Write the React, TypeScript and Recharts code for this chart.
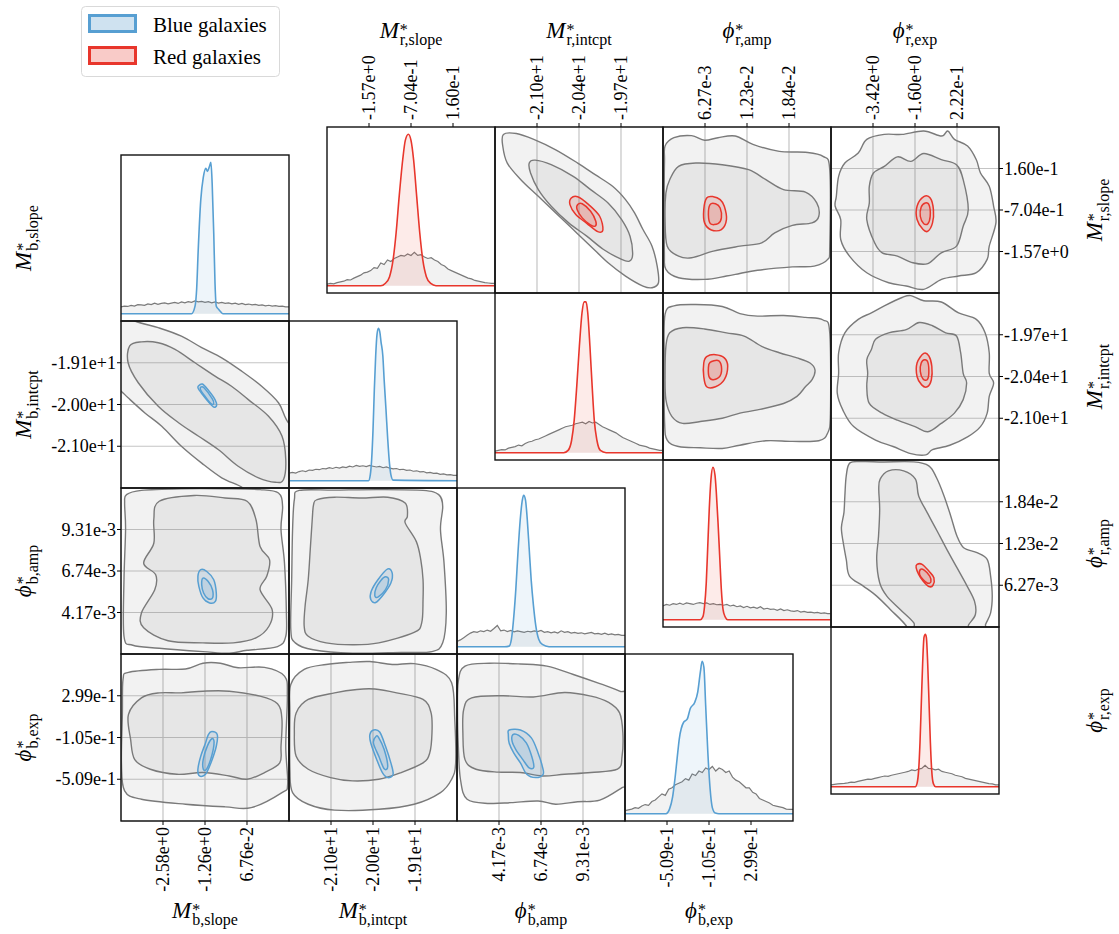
import React from 'react';
import { ScatterChart, Scatter, ComposedChart, Area, XAxis, YAxis, CartesianGrid } from 'recharts';

const FONT = '"Liberation Serif", "Times New Roman", "DejaVu Serif", serif';
const BLUE = '#579fd2';
const RED = '#e8362c';
const GREY = '#7a7a7a';

// ---------------- axis ranges, ticks and tick labels ----------------
const bSlopeDomain = [-3.904, 1.392];
const bSlopeTicks = [-2.58, -1.256, 0.0676];
const bSlopeLabels = ['-2.58e+0', '-1.26e+0', '6.76e-2'];
const bIntDomain = [-21.91, -18.15];
const bIntTicks = [-20.97, -20.03, -19.09];
const bIntLabels = ['-2.10e+1', '-2.00e+1', '-1.91e+1'];
const bAmpDomain = [1.6e-3, 11.88e-3];
const bAmpTicks = [4.17e-3, 6.74e-3, 9.31e-3];
const bAmpLabels = ['4.17e-3', '6.74e-3', '9.31e-3'];
const bExpDomain = [-0.913, 0.703];
const bExpTicks = [-0.509, -0.105, 0.299];
const bExpLabels = ['-5.09e-1', '-1.05e-1', '2.99e-1'];

const rSlopeDomain = [-2.432, 1.024];
const rSlopeTicks = [-1.568, -0.704, 0.16];
const rSlopeLabels = ['-1.57e+0', '-7.04e-1', '1.60e-1'];
const rIntDomain = [-21.67, -19.07];
const rIntTicks = [-21.02, -20.37, -19.72];
const rIntLabels = ['-2.10e+1', '-2.04e+1', '-1.97e+1'];
const rAmpDomain = [0.2e-3, 24.48e-3];
const rAmpTicks = [6.27e-3, 12.34e-3, 18.41e-3];
const rAmpLabels = ['6.27e-3', '1.23e-2', '1.84e-2'];
const rExpDomain = [-5.241, 2.043];
const rExpTicks = [-3.42, -1.599, 0.222];
const rExpLabels = ['-3.42e+0', '-1.60e+0', '2.22e-1'];

const blueTitles = [
  { sym: 'M', sub: 'b,slope' },
  { sym: 'M', sub: 'b,intcpt' },
  { sym: '\u03d5', sub: 'b,amp' },
  { sym: '\u03d5', sub: 'b,exp' },
];
const redTitles = [
  { sym: 'M', sub: 'r,slope' },
  { sym: 'M', sub: 'r,intcpt' },
  { sym: '\u03d5', sub: 'r,amp' },
  { sym: '\u03d5', sub: 'r,exp' },
];
const legendNames = ['Blue galaxies', 'Red galaxies'];

// ---------------- 1D marginals (prior histogram + posterior) ----------------
const bSlopeHist = [0.045, 0.05, 0.048, 0.055, 0.05, 0.06, 0.058, 0.055, 0.065, 0.06, 0.07, 0.062, 0.068, 0.072, 0.065, 0.07, 0.075, 0.068, 0.078, 0.072, 0.08, 0.075, 0.085, 0.078, 0.082, 0.075, 0.08, 0.072, 0.078, 0.07, 0.075, 0.068, 0.072, 0.065, 0.07, 0.062, 0.068, 0.06, 0.064, 0.058, 0.062, 0.055, 0.058, 0.052, 0.056, 0.05, 0.053, 0.048, 0.05, 0.045];
const bSlopePeakX = [-3.904, -1.68, -1.57, -1.52, -1.47, -1.39, -1.31, -1.23, -1.18, -1.12, -1.07, -1.03, -0.98, -0.94, -0.9, -0.83, -0.77, -0.69, 1.392];
const bSlopePeakY = [0, 0, 0.05, 0.16, 0.42, 0.75, 0.9, 0.96, 0.94, 0.97, 1.0, 0.86, 0.53, 0.2, 0.05, 0.03, 0.015, 0, 0];

const bIntHist = [0.05, 0.055, 0.05, 0.06, 0.065, 0.06, 0.07, 0.068, 0.075, 0.072, 0.08, 0.078, 0.085, 0.08, 0.088, 0.083, 0.09, 0.086, 0.095, 0.09, 0.1, 0.094, 0.098, 0.092, 0.1, 0.095, 0.09, 0.094, 0.085, 0.09, 0.082, 0.078, 0.08, 0.072, 0.075, 0.068, 0.07, 0.062, 0.065, 0.058, 0.06, 0.052, 0.055, 0.048, 0.05, 0.042, 0.045, 0.038, 0.04, 0.035];
const bIntPeakX = [-21.91, -20.13, -20.09, -20.06, -20.03, -20.0, -19.97, -19.94, -19.91, -19.88, -19.85, -19.81, -19.78, -19.74, -19.7, -19.66, -19.63, -19.58, -18.15];
const bIntPeakY = [0, 0, 0.04, 0.14, 0.33, 0.6, 0.82, 0.96, 1.0, 0.98, 0.91, 0.82, 0.66, 0.47, 0.27, 0.11, 0.04, 0.004, 0];

const bAmpHist = [0.035, 0.045, 0.06, 0.075, 0.09, 0.1, 0.095, 0.105, 0.1, 0.11, 0.102, 0.12, 0.14, 0.105, 0.11, 0.1, 0.108, 0.098, 0.105, 0.1, 0.095, 0.102, 0.098, 0.105, 0.1, 0.108, 0.095, 0.1, 0.092, 0.098, 0.09, 0.105, 0.095, 0.1, 0.09, 0.095, 0.088, 0.092, 0.085, 0.09, 0.095, 0.085, 0.088, 0.082, 0.09, 0.08, 0.085, 0.078, 0.082, 0.075];
const bAmpPeakX = [1.6e-3, 4.52e-3, 4.79e-3, 4.93e-3, 5.06e-3, 5.2e-3, 5.33e-3, 5.47e-3, 5.6e-3, 5.68e-3, 5.79e-3, 5.9e-3, 6.01e-3, 6.14e-3, 6.28e-3, 6.42e-3, 6.6e-3, 6.82e-3, 7.23e-3, 11.88e-3];
const bAmpPeakY = [0, 0, 0.004, 0.05, 0.18, 0.38, 0.62, 0.84, 0.97, 1.0, 0.97, 0.84, 0.66, 0.44, 0.27, 0.14, 0.05, 0.015, 0, 0];

const bExpHist = [0.02, 0.025, 0.03, 0.04, 0.035, 0.05, 0.06, 0.055, 0.08, 0.09, 0.11, 0.13, 0.12, 0.16, 0.17, 0.19, 0.2, 0.21, 0.23, 0.22, 0.26, 0.25, 0.28, 0.27, 0.3, 0.29, 0.31, 0.28, 0.3, 0.29, 0.27, 0.28, 0.24, 0.22, 0.21, 0.19, 0.17, 0.17, 0.14, 0.13, 0.1, 0.09, 0.08, 0.07, 0.055, 0.05, 0.045, 0.04, 0.03, 0.028];
const bExpPeakX = [-0.913, -0.519, -0.485, -0.455, -0.434, -0.412, -0.391, -0.349, -0.315, -0.285, -0.243, -0.213, -0.188, -0.171, -0.154, -0.137, -0.116, -0.094, -0.073, -0.044, -0.01, 0.703];
const bExpPeakY = [0, 0, 0.03, 0.11, 0.22, 0.36, 0.49, 0.6, 0.62, 0.69, 0.73, 0.8, 0.93, 1.0, 0.96, 0.71, 0.4, 0.16, 0.04, 0.004, 0, 0];

const rSlopeHist = [0.01, 0.015, 0.012, 0.02, 0.025, 0.03, 0.04, 0.038, 0.05, 0.06, 0.07, 0.085, 0.09, 0.1, 0.12, 0.115, 0.15, 0.14, 0.17, 0.16, 0.18, 0.19, 0.2, 0.195, 0.21, 0.2, 0.22, 0.2, 0.205, 0.19, 0.18, 0.185, 0.17, 0.16, 0.14, 0.13, 0.11, 0.1, 0.09, 0.08, 0.07, 0.06, 0.05, 0.045, 0.035, 0.03, 0.025, 0.02, 0.018, 0.015];
const rSlopePeakX = [-2.432, -1.326, -1.236, -1.145, -1.073, -1.01, -0.947, -0.875, -0.821, -0.758, -0.704, -0.65, -0.587, -0.524, -0.461, -0.388, -0.298, -0.19, 1.024];
const rSlopePeakY = [0, 0, 0.015, 0.06, 0.17, 0.35, 0.59, 0.83, 0.96, 1.0, 0.96, 0.83, 0.59, 0.35, 0.17, 0.06, 0.015, 0, 0];

const rIntHist = [0.01, 0.015, 0.02, 0.018, 0.03, 0.035, 0.04, 0.05, 0.045, 0.06, 0.07, 0.075, 0.085, 0.09, 0.1, 0.11, 0.12, 0.13, 0.14, 0.15, 0.16, 0.17, 0.175, 0.18, 0.19, 0.195, 0.2, 0.19, 0.205, 0.195, 0.2, 0.185, 0.17, 0.16, 0.15, 0.14, 0.13, 0.115, 0.1, 0.09, 0.08, 0.07, 0.06, 0.05, 0.045, 0.04, 0.03, 0.025, 0.02, 0.015];
const rIntPeakX = [-21.67, -20.607, -20.539, -20.485, -20.445, -20.404, -20.364, -20.323, -20.289, -20.261, -20.235, -20.201, -20.167, -20.133, -20.092, -20.039, -19.95, -19.07];
const rIntPeakY = [0, 0, 0.015, 0.08, 0.21, 0.44, 0.7, 0.92, 0.99, 0.99, 0.92, 0.7, 0.44, 0.21, 0.08, 0.015, 0, 0];

const rAmpHist = [0.09, 0.1, 0.095, 0.105, 0.1, 0.108, 0.1, 0.11, 0.105, 0.1, 0.108, 0.112, 0.105, 0.11, 0.1, 0.105, 0.098, 0.1, 0.095, 0.1, 0.09, 0.095, 0.085, 0.09, 0.08, 0.088, 0.078, 0.082, 0.075, 0.085, 0.07, 0.075, 0.068, 0.07, 0.062, 0.07, 0.06, 0.065, 0.058, 0.055, 0.06, 0.05, 0.055, 0.048, 0.05, 0.045, 0.048, 0.042, 0.045, 0.04];
const rAmpPeakX = [0.2e-3, 5.58e-3, 5.97e-3, 6.21e-3, 6.45e-3, 6.65e-3, 6.89e-3, 7.13e-3, 7.42e-3, 7.71e-3, 7.9e-3, 8.15e-3, 8.39e-3, 8.63e-3, 8.87e-3, 9.17e-3, 9.55e-3, 24.48e-3];
const rAmpPeakY = [0, 0, 0.02, 0.09, 0.24, 0.46, 0.73, 0.92, 1.0, 0.95, 0.84, 0.64, 0.42, 0.2, 0.07, 0.02, 0, 0];

const rExpHist = [0.012, 0.015, 0.018, 0.02, 0.022, 0.025, 0.03, 0.028, 0.035, 0.04, 0.045, 0.05, 0.048, 0.055, 0.06, 0.065, 0.07, 0.068, 0.075, 0.08, 0.085, 0.09, 0.095, 0.1, 0.11, 0.105, 0.115, 0.12, 0.14, 0.12, 0.118, 0.11, 0.115, 0.1, 0.095, 0.09, 0.085, 0.075, 0.07, 0.065, 0.055, 0.05, 0.045, 0.04, 0.035, 0.03, 0.025, 0.02, 0.018, 0.012];
const rExpPeakX = [-5.241, -1.585, -1.513, -1.44, -1.382, -1.325, -1.267, -1.209, -1.15, -1.107, -1.049, -0.99, -0.932, -0.876, -0.803, -0.701, 2.043];
const rExpPeakY = [0, 0, 0.02, 0.11, 0.29, 0.55, 0.81, 0.98, 1.0, 0.98, 0.81, 0.55, 0.29, 0.11, 0.02, 0, 0];

// ---------------- 2D credible contours (grey prior 95/68, posterior 95/68) ----------------
const b10G95 = [[-4.3, -17.87], [-3.47, -18.15], [-2.73, -18.3], [-2.0, -18.49], [-1.36, -18.75], [-0.73, -18.98], [-0.1, -19.28], [0.53, -19.62], [1.06, -19.99], [1.31, -20.37], [1.79, -20.97], [1.79, -22.19], [0.2, -22.1], [-0.1, -21.89], [-0.73, -21.68], [-1.36, -21.35], [-2.0, -20.97], [-2.62, -20.52], [-3.15, -20.22], [-3.68, -19.88], [-3.9, -19.73], [-4.3, -19.51]];
const b10G68 = [[-3.63, -18.71], [-3.26, -18.62], [-2.73, -18.64], [-2.2, -18.79], [-1.57, -19.09], [-0.94, -19.39], [-0.42, -19.62], [0.11, -19.92], [0.74, -20.29], [1.17, -20.74], [1.29, -21.27], [1.22, -21.72], [0.96, -21.78], [0.43, -21.68], [-0.21, -21.42], [-0.83, -21.05], [-1.47, -20.74], [-2.09, -20.44], [-2.73, -20.07], [-3.36, -19.54], [-3.68, -19.09]];
const b10C95 = [[-1.47, -19.62], [-1.34, -19.57], [-1.15, -19.71], [-0.94, -19.92], [-0.89, -20.05], [-0.98, -20.09], [-1.15, -19.97], [-1.34, -19.8], [-1.47, -19.67]];
const b10C68 = [[-1.39, -19.64], [-1.28, -19.66], [-1.03, -19.9], [-0.98, -20.01], [-1.07, -20.01], [-1.28, -19.82], [-1.39, -19.71]];
const b20G95 = [[-3.73, 11.47e-3], [-3.26, 11.73e-3], [-2.01, 11.83e-3], [-0.62, 11.83e-3], [0.48, 11.78e-3], [1.06, 11.57e-3], [1.19, 10.75e-3], [1.14, 9.31e-3], [1.25, 7.23e-3], [1.31, 4.14e-3], [1.29, 2.7e-3], [1.03, 2.06e-3], [0.07, 1.83e-3], [-0.49, 1.65e-3], [-1.32, 1.75e-3], [-2.7, 1.96e-3], [-3.53, 2.14e-3], [-3.81, 2.7e-3], [-3.81, 6.2e-3], [-3.76, 9.31e-3], [-3.79, 10.95e-3]];
const b20G68 = [[-2.7, 11.06e-3], [-1.6, 11.42e-3], [-0.62, 11.26e-3], [0.07, 11.06e-3], [0.35, 9.93e-3], [0.48, 8.26e-3], [0.78, 7.43e-3], [0.69, 6.41e-3], [0.48, 5.58e-3], [0.86, 4.35e-3], [0.76, 3.32e-3], [0.35, 2.6e-3], [-0.36, 2.29e-3], [-1.32, 2.29e-3], [-2.42, 2.42e-3], [-3.19, 3.22e-3], [-3.26, 4.14e-3], [-2.84, 5.58e-3], [-2.81, 6.51e-3], [-3.19, 7.23e-3], [-2.87, 8.46e-3], [-2.87, 9.93e-3]];
const b20C95 = [[-1.39, 6.82e-3], [-1.2, 6.71e-3], [-0.98, 6.2e-3], [-0.9, 5.38e-3], [-0.93, 4.86e-3], [-1.11, 4.76e-3], [-1.32, 5.07e-3], [-1.45, 5.79e-3], [-1.48, 6.41e-3]];
const b20C68 = [[-1.32, 6.3e-3], [-1.16, 6.1e-3], [-1.02, 5.58e-3], [-1.02, 5.07e-3], [-1.16, 5.02e-3], [-1.3, 5.38e-3], [-1.36, 5.89e-3]];
const b21G95 = [[-21.68, 11.73e-3], [-20.89, 11.75e-3], [-19.9, 11.78e-3], [-18.91, 11.73e-3], [-18.56, 11.47e-3], [-18.47, 10.75e-3], [-18.52, 9.31e-3], [-18.44, 7.23e-3], [-18.39, 4.14e-3], [-18.47, 2.29e-3], [-18.71, 1.75e-3], [-19.4, 1.7e-3], [-20.49, 1.65e-3], [-21.37, 1.86e-3], [-21.77, 2.29e-3], [-21.87, 3.12e-3], [-21.85, 6.2e-3], [-21.83, 9.31e-3], [-21.79, 11.16e-3]];
const b21G68 = [[-21.28, 11.16e-3], [-20.89, 11.31e-3], [-20.29, 11.26e-3], [-19.7, 11.31e-3], [-19.31, 10.95e-3], [-19.26, 10.13e-3], [-19.31, 9.72e-3], [-19.06, 8.56e-3], [-18.96, 7.43e-3], [-18.91, 6.2e-3], [-18.91, 4.97e-3], [-18.94, 3.53e-3], [-19.11, 2.94e-3], [-19.9, 2.29e-3], [-20.49, 2.17e-3], [-21.08, 2.29e-3], [-21.48, 2.7e-3], [-21.57, 3.32e-3], [-21.55, 4.56e-3], [-21.48, 6.2e-3], [-21.43, 8.26e-3], [-21.39, 9.93e-3], [-21.36, 10.85e-3]];
const b21C95 = [[-19.7, 6.87e-3], [-19.6, 6.61e-3], [-19.63, 6.0e-3], [-19.8, 5.27e-3], [-19.97, 4.79e-3], [-20.08, 4.97e-3], [-20.07, 5.48e-3], [-19.92, 6.2e-3]];
const b21C68 = [[-19.75, 6.38e-3], [-19.68, 6.2e-3], [-19.75, 5.58e-3], [-19.92, 5.12e-3], [-19.99, 5.22e-3], [-19.96, 5.69e-3], [-19.85, 6.17e-3]];
const b30G95 = [[-3.84, 0.457], [-3.67, 0.525], [-2.7, 0.554], [-1.87, 0.558], [-1.32, 0.614], [-0.77, 0.614], [-0.21, 0.57], [0.62, 0.574], [1.25, 0.489], [1.34, 0.295], [1.29, -0.19], [1.35, -0.557], [1.17, -0.638], [0.2, -0.784], [-0.62, -0.776], [-1.87, -0.751], [-3.26, -0.703], [-3.79, -0.622], [-3.89, -0.351], [-3.86, 0.133]];
const b30G68 = [[-3.67, 0.117], [-3.26, 0.279], [-2.7, 0.327], [-2.01, 0.327], [-1.32, 0.343], [-0.49, 0.343], [0.48, 0.295], [1.03, 0.222], [1.17, 0.069], [1.14, -0.19], [1.1, -0.351], [0.62, -0.444], [0.07, -0.509], [-0.49, -0.477], [-1.32, -0.444], [-2.14, -0.461], [-2.98, -0.412], [-3.47, -0.319], [-3.6, -0.125]];
const b30C95 = [[-1.04, -0.048], [-0.87, -0.077], [-0.9, -0.19], [-1.07, -0.351], [-1.24, -0.461], [-1.43, -0.477], [-1.48, -0.412], [-1.39, -0.287], [-1.24, -0.158], [-1.15, -0.077]];
const b30C68 = [[-1.04, -0.117], [-0.97, -0.149], [-1.04, -0.279], [-1.2, -0.408], [-1.31, -0.412], [-1.31, -0.315], [-1.18, -0.186]];
const b31G95 = [[-21.87, 0.408], [-21.57, 0.554], [-21.08, 0.602], [-20.58, 0.622], [-20.1, 0.63], [-19.6, 0.602], [-19.11, 0.61], [-18.62, 0.554], [-18.27, 0.424], [-18.2, 0.069], [-18.18, -0.351], [-18.27, -0.509], [-18.52, -0.638], [-19.11, -0.751], [-19.9, -0.8], [-20.89, -0.808], [-21.48, -0.751], [-21.83, -0.638], [-21.89, -0.412], [-21.89, 0.133]];
const b31G68 = [[-21.75, 0.133], [-21.48, 0.263], [-20.89, 0.327], [-20.39, 0.36], [-19.99, 0.364], [-19.5, 0.327], [-18.91, 0.263], [-18.73, 0.133], [-18.71, -0.061], [-18.76, -0.254], [-18.91, -0.351], [-19.4, -0.444], [-19.9, -0.509], [-20.49, -0.525], [-20.98, -0.493], [-21.48, -0.412], [-21.75, -0.287], [-21.79, -0.061]];
const b31C95 = [[-20.02, -0.032], [-19.88, -0.052], [-19.75, -0.19], [-19.63, -0.351], [-19.58, -0.461], [-19.7, -0.493], [-19.82, -0.444], [-19.95, -0.315], [-20.08, -0.158], [-20.1, -0.077]];
const b31C68 = [[-19.96, -0.093], [-19.9, -0.109], [-19.78, -0.222], [-19.7, -0.384], [-19.78, -0.408], [-19.9, -0.287], [-20.02, -0.158]];
const b32G95 = [[1.68e-3, 0.44], [2.09e-3, 0.586], [3.58e-3, 0.614], [5.48e-3, 0.606], [7.1e-3, 0.586], [8.72e-3, 0.505], [10.34e-3, 0.416], [11.55e-3, 0.343], [12.24e-3, 0.263], [12.37e-3, -0.509], [11.7e-3, -0.59], [10.34e-3, -0.711], [8.98e-3, -0.727], [7.64e-3, -0.751], [6.56e-3, -0.719], [4.92e-3, -0.735], [3.58e-3, -0.743], [2.22e-3, -0.703], [1.81e-3, -0.509], [1.68e-3, -0.19], [1.63e-3, 0.133]];
const b32G68 = [[2.01e-3, 0.166], [2.5e-3, 0.279], [4.38e-3, 0.299], [6.28e-3, 0.287], [8.18e-3, 0.331], [9.8e-3, 0.295], [10.88e-3, 0.234], [11.55e-3, 0.133], [11.75e-3, -0.061], [11.7e-3, -0.287], [11.42e-3, -0.412], [9.8e-3, -0.444], [8.18e-3, -0.461], [6.82e-3, -0.477], [5.48e-3, -0.444], [4.12e-3, -0.44], [2.76e-3, -0.412], [2.09e-3, -0.319], [1.96e-3, -0.061]];
const b32C95 = [[4.79e-3, -0.032], [5.48e-3, -0.032], [6.15e-3, -0.109], [6.56e-3, -0.254], [6.82e-3, -0.384], [6.87e-3, -0.461], [6.41e-3, -0.493], [5.87e-3, -0.461], [5.48e-3, -0.351], [5.07e-3, -0.254], [4.79e-3, -0.158], [4.74e-3, -0.077]];
const b32C68 = [[5.02e-3, -0.077], [5.38e-3, -0.085], [5.84e-3, -0.158], [6.17e-3, -0.287], [6.3e-3, -0.392], [6.02e-3, -0.4], [5.63e-3, -0.319], [5.2e-3, -0.222], [4.97e-3, -0.141]];

const r01G95 = [[-21.54, 0.87], [-21.34, 0.888], [-21.07, 0.767], [-20.73, 0.55], [-20.39, 0.273], [-20.12, 0.031], [-19.85, -0.211], [-19.65, -0.488], [-19.51, -0.765], [-19.38, -1.111], [-19.24, -1.457], [-19.16, -1.872], [-19.14, -2.218], [-19.24, -2.322], [-19.38, -2.287], [-19.65, -2.079], [-19.92, -1.803], [-20.19, -1.457], [-20.46, -1.111], [-20.73, -0.765], [-21.0, -0.419], [-21.27, -0.073], [-21.48, 0.273], [-21.55, 0.628]];
const r01G68 = [[-21.14, 0.273], [-21.05, 0.334], [-20.8, 0.239], [-20.46, -0.003], [-20.19, -0.28], [-19.92, -0.557], [-19.71, -0.903], [-19.58, -1.249], [-19.54, -1.63], [-19.59, -1.768], [-19.71, -1.733], [-19.99, -1.526], [-20.25, -1.249], [-20.53, -0.972], [-20.8, -0.626], [-21.0, -0.28], [-21.12, 0.066]];
const r01C95 = [[-20.49, -0.453], [-20.39, -0.427], [-20.22, -0.592], [-20.05, -0.834], [-20.0, -1.119], [-20.08, -1.154], [-20.25, -0.981], [-20.42, -0.799], [-20.51, -0.592]];
const r01C68 = [[-20.39, -0.592], [-20.32, -0.574], [-20.19, -0.73], [-20.11, -0.938], [-20.12, -1.041], [-20.2, -1.007], [-20.32, -0.868], [-20.4, -0.695]];
const r02G95 = [[0.5e-3, 0.628], [1.78e-3, 0.801], [4.33e-3, 0.844], [6.21e-3, 0.749], [8.15e-3, 0.801], [10.64e-3, 0.836], [13.19e-3, 0.663], [17.01e-3, 0.516], [20.78e-3, 0.498], [23.33e-3, 0.412], [24.3e-3, 0.135], [24.3e-3, -1.457], [24.0e-3, -1.733], [22.05e-3, -1.872], [18.9e-3, -1.889], [13.86e-3, -1.958], [11.31e-3, -2.027], [9.37e-3, -2.079], [6.21e-3, -2.149], [2.45e-3, -2.114], [0.62e-3, -1.941], [0.4e-3, -1.595], [0.38e-3, -0.211], [0.42e-3, 0.343]];
const r02G68 = [[1.17e-3, -0.073], [2.45e-3, 0.204], [4.93e-3, 0.273], [8.76e-3, 0.239], [12.58e-3, 0.135], [15.07e-3, -0.073], [17.62e-3, -0.28], [20.78e-3, -0.332], [22.42e-3, -0.557], [22.72e-3, -0.834], [21.75e-3, -0.972], [18.9e-3, -1.024], [16.35e-3, -1.18], [14.46e-3, -1.387], [11.31e-3, -1.457], [7.48e-3, -1.56], [4.33e-3, -1.699], [2.45e-3, -1.664], [0.81e-3, -1.457], [0.5e-3, -0.903], [0.62e-3, -0.349]];
const r02C95 = [[6.51e-3, -0.453], [7.48e-3, -0.427], [8.46e-3, -0.488], [9.06e-3, -0.626], [9.37e-3, -0.903], [8.64e-3, -1.111], [7.18e-3, -1.119], [6.21e-3, -0.972], [6.09e-3, -0.695]];
const r02C68 = [[7.0e-3, -0.592], [7.79e-3, -0.574], [8.46e-3, -0.661], [8.64e-3, -0.868], [8.15e-3, -0.989], [7.06e-3, -0.989], [6.76e-3, -0.799]];
const r03G95 = [[-5.01, -0.419], [-4.91, -0.003], [-4.64, 0.273], [-4.06, 0.481], [-3.69, 0.767], [-2.93, 0.87], [-2.16, 0.87], [-1.22, 0.94], [-0.45, 0.836], [-0.18, 0.94], [0.11, 0.767], [0.68, 0.628], [1.06, 0.343], [1.24, 0.066], [1.62, -0.211], [1.81, -0.626], [1.91, -0.972], [1.62, -1.457], [1.53, -1.733], [1.06, -2.01], [0.29, -2.079], [-0.45, -2.149], [-1.22, -2.356], [-1.98, -2.287], [-2.74, -2.218], [-3.69, -2.01], [-4.44, -1.664], [-4.82, -1.318], [-4.82, -0.903], [-5.06, -0.626]];
const r03G68 = [[-3.58, -0.211], [-3.4, 0.066], [-2.93, 0.204], [-2.36, 0.403], [-1.78, 0.308], [-1.22, 0.472], [-0.46, 0.343], [0.2, 0.239], [0.49, -0.073], [0.71, -0.695], [0.49, -1.041], [0.2, -1.457], [-0.46, -1.595], [-1.04, -1.82], [-1.69, -1.803], [-2.36, -1.664], [-3.02, -1.595], [-3.35, -1.387], [-3.69, -0.903], [-3.58, -0.557]];
const r03C95 = [[-1.22, -0.427], [-0.94, -0.453], [-0.8, -0.695], [-0.84, -0.972], [-1.04, -1.145], [-1.25, -1.111], [-1.51, -0.903], [-1.51, -0.626]];
const r03C68 = [[-1.15, -0.557], [-0.98, -0.609], [-0.94, -0.834], [-1.04, -0.989], [-1.22, -0.989], [-1.37, -0.834], [-1.33, -0.643]];
const r12G95 = [[0.5e-3, -19.4], [1.78e-3, -19.27], [4.93e-3, -19.25], [8.76e-3, -19.28], [11.31e-3, -19.39], [13.86e-3, -19.43], [17.62e-3, -19.42], [20.78e-3, -19.45], [23.33e-3, -19.49], [24.3e-3, -19.69], [24.4e-3, -20.94], [24.0e-3, -21.25], [22.72e-3, -21.37], [18.9e-3, -21.38], [15.07e-3, -21.37], [11.31e-3, -21.44], [8.76e-3, -21.49], [5.6e-3, -21.48], [2.45e-3, -21.46], [0.81e-3, -21.36], [0.42e-3, -21.05], [0.36e-3, -20.01]];
const r12G68 = [[0.62e-3, -19.9], [1.17e-3, -19.69], [3.05e-3, -19.61], [6.21e-3, -19.63], [9.37e-3, -19.69], [11.92e-3, -19.74], [14.46e-3, -19.9], [17.01e-3, -20.0], [19.56e-3, -20.08], [21.45e-3, -20.16], [22.17e-3, -20.27], [21.75e-3, -20.42], [20.78e-3, -20.53], [19.56e-3, -20.68], [17.62e-3, -20.79], [13.86e-3, -20.89], [11.31e-3, -20.94], [8.76e-3, -21.02], [5.6e-3, -21.07], [3.05e-3, -21.1], [1.47e-3, -20.99], [0.62e-3, -20.73], [0.5e-3, -20.32]];
const r12C95 = [[6.51e-3, -20.06], [7.79e-3, -20.03], [9.06e-3, -20.08], [9.55e-3, -20.21], [9.06e-3, -20.42], [7.79e-3, -20.53], [6.51e-3, -20.53], [6.09e-3, -20.37], [6.09e-3, -20.16]];
const r12C68 = [[7.0e-3, -20.15], [8.15e-3, -20.12], [8.64e-3, -20.21], [8.46e-3, -20.36], [7.48e-3, -20.42], [6.88e-3, -20.38], [6.76e-3, -20.24]];
const r13G95 = [[-4.91, -20.32], [-4.91, -20.0], [-4.64, -19.69], [-4.06, -19.48], [-3.49, -19.38], [-2.93, -19.27], [-2.16, -19.14], [-1.78, -19.11], [-1.22, -19.19], [-0.46, -19.21], [0.29, -19.38], [1.06, -19.48], [1.44, -19.69], [1.62, -20.0], [1.62, -20.32], [1.81, -20.47], [1.62, -20.68], [1.53, -20.94], [1.24, -21.15], [0.68, -21.31], [-0.09, -21.44], [-0.84, -21.51], [-1.13, -21.59], [-1.78, -21.57], [-2.55, -21.46], [-3.31, -21.36], [-4.26, -21.15], [-4.73, -20.89], [-4.97, -20.63]];
const r13G68 = [[-3.69, -20.11], [-3.49, -19.95], [-3.31, -19.79], [-2.74, -19.69], [-1.98, -19.64], [-1.42, -19.53], [-0.84, -19.58], [-0.27, -19.69], [0.2, -19.74], [0.38, -20.0], [0.49, -20.32], [0.64, -20.47], [0.49, -20.73], [0.11, -20.94], [-0.46, -21.1], [-1.04, -21.23], [-1.6, -21.15], [-2.36, -21.05], [-3.02, -20.94], [-3.58, -20.79], [-3.69, -20.53], [-3.65, -20.32]];
const r13C95 = [[-1.22, -20.01], [-1.0, -20.05], [-0.87, -20.21], [-0.89, -20.42], [-1.07, -20.53], [-1.31, -20.5], [-1.51, -20.37], [-1.51, -20.16]];
const r13C68 = [[-1.18, -20.11], [-1.04, -20.15], [-1.0, -20.32], [-1.07, -20.42], [-1.25, -20.41], [-1.37, -20.29], [-1.33, -20.16]];
const r23G95 = [[-4.42, 24.06e-3], [-3.84, 24.25e-3], [-2.97, 24.2e-3], [-1.65, 24.2e-3], [-1.0, 23.63e-3], [-0.67, 21.93e-3], [-0.34, 19.26e-3], [-0.05, 16.35e-3], [0.22, 13.43e-3], [0.51, 11.73e-3], [1.09, 11.0e-3], [1.53, 10.03e-3], [1.68, 7.61e-3], [1.75, 4.69e-3], [1.68, 2.26e-3], [1.46, 0.56e-3], [1.31, -1.14e-3], [-2.09, -1.14e-3], [-1.95, 0.2e-3], [-2.67, 2.75e-3], [-3.26, 4.69e-3], [-3.84, 6.15e-3], [-4.44, 7.61e-3], [-4.58, 10.03e-3], [-4.71, 12.46e-3], [-4.79, 14.65e-3], [-4.68, 16.83e-3], [-4.64, 19.26e-3], [-4.58, 22.17e-3]];
const r23G68 = [[-3.11, 21.69e-3], [-2.75, 22.9e-3], [-2.09, 22.9e-3], [-1.58, 21.69e-3], [-1.44, 19.26e-3], [-1.07, 16.83e-3], [-0.64, 14.16e-3], [-0.22, 11.49e-3], [0.22, 8.82e-3], [0.66, 6.15e-3], [0.98, 3.96e-3], [1.02, 2.02e-3], [0.73, 0.56e-3], [0.51, -0.65e-3], [-1.51, -0.65e-3], [-1.65, 0.81e-3], [-2.24, 2.75e-3], [-2.82, 4.69e-3], [-3.13, 6.63e-3], [-3.26, 10.03e-3], [-3.18, 13.43e-3], [-3.13, 17.32e-3], [-3.17, 20.23e-3]];
const r23C95 = [[-1.51, 9.31e-3], [-1.29, 9.31e-3], [-1.0, 8.33e-3], [-0.78, 7.36e-3], [-0.82, 6.27e-3], [-1.0, 6.09e-3], [-1.25, 6.88e-3], [-1.44, 7.85e-3], [-1.55, 8.82e-3]];
const r23C68 = [[-1.36, 8.58e-3], [-1.2, 8.46e-3], [-0.96, 7.61e-3], [-0.91, 6.76e-3], [-1.05, 6.57e-3], [-1.25, 7.12e-3], [-1.4, 7.85e-3]];

// ---------------- assembled configuration ----------------
const bSlope = { domain: bSlopeDomain, ticks: bSlopeTicks, labels: bSlopeLabels };
const bInt = { domain: bIntDomain, ticks: bIntTicks, labels: bIntLabels };
const bAmp = { domain: bAmpDomain, ticks: bAmpTicks, labels: bAmpLabels };
const bExp = { domain: bExpDomain, ticks: bExpTicks, labels: bExpLabels };
const rSlope = { domain: rSlopeDomain, ticks: rSlopeTicks, labels: rSlopeLabels };
const rInt = { domain: rIntDomain, ticks: rIntTicks, labels: rIntLabels };
const rAmp = { domain: rAmpDomain, ticks: rAmpTicks, labels: rAmpLabels };
const rExp = { domain: rExpDomain, ticks: rExpTicks, labels: rExpLabels };
const blueParams = [bSlope, bInt, bAmp, bExp];
const redParams = [rSlope, rInt, rAmp, rExp];

const blueDiag = [
  { hist: bSlopeHist, px: bSlopePeakX, py: bSlopePeakY },
  { hist: bIntHist, px: bIntPeakX, py: bIntPeakY },
  { hist: bAmpHist, px: bAmpPeakX, py: bAmpPeakY },
  { hist: bExpHist, px: bExpPeakX, py: bExpPeakY },
];
const redDiag = [
  { hist: rSlopeHist, px: rSlopePeakX, py: rSlopePeakY },
  { hist: rIntHist, px: rIntPeakX, py: rIntPeakY },
  { hist: rAmpHist, px: rAmpPeakX, py: rAmpPeakY },
  { hist: rExpHist, px: rExpPeakX, py: rExpPeakY },
];
const blueContours = [
  { i: 1, j: 0, sets: [b10G95, b10G68, b10C95, b10C68] },
  { i: 2, j: 0, sets: [b20G95, b20G68, b20C95, b20C68] },
  { i: 2, j: 1, sets: [b21G95, b21G68, b21C95, b21C68] },
  { i: 3, j: 0, sets: [b30G95, b30G68, b30C95, b30C68] },
  { i: 3, j: 1, sets: [b31G95, b31G68, b31C95, b31C68] },
  { i: 3, j: 2, sets: [b32G95, b32G68, b32C95, b32C68] },
];
const redContours = [
  { i: 0, j: 1, sets: [r01G95, r01G68, r01C95, r01C68] },
  { i: 0, j: 2, sets: [r02G95, r02G68, r02C95, r02C68] },
  { i: 0, j: 3, sets: [r03G95, r03G68, r03C95, r03C68] },
  { i: 1, j: 2, sets: [r12G95, r12G68, r12C95, r12C68] },
  { i: 1, j: 3, sets: [r13G95, r13G68, r13C95, r13C68] },
  { i: 2, j: 3, sets: [r23G95, r23G68, r23C95, r23C68] },
];

// ---------------- layout ----------------
const BX = [121, 289, 457, 625, 793];
const BY = [155, 321, 488, 654, 821];
const RX = [327, 495, 663, 831, 999];
const RY = [127, 293, 460, 627, 794];

// smooth closed curve (Catmull-Rom style) used to draw contour outlines
function closedSpline(context: any) {
  let pts: number[][] = [];
  return {
    areaStart() {},
    areaEnd() {},
    lineStart() {
      pts = [];
    },
    point(x: number, y: number) {
      pts.push([+x, +y]);
    },
    lineEnd() {
      const n = pts.length;
      if (n < 3) return;
      context.moveTo(pts[0][0], pts[0][1]);
      for (let k = 0; k < n; k++) {
        const p0 = pts[(k + n - 1) % n];
        const p1 = pts[k];
        const p2 = pts[(k + 1) % n];
        const p3 = pts[(k + 2) % n];
        context.bezierCurveTo(
          p1[0] + (p2[0] - p0[0]) / 6,
          p1[1] + (p2[1] - p0[1]) / 6,
          p2[0] - (p3[0] - p1[0]) / 6,
          p2[1] - (p3[1] - p1[1]) / 6,
          p2[0],
          p2[1]
        );
      }
      context.closePath();
    },
  };
}

const EmptyShape = () => null;

function tickRenderer(labels: string[], side: string) {
  return (props: any) => {
    const { x, y, index } = props;
    const base = { fontFamily: FONT, fontSize: 18, fill: '#000' };
    if (side === 'bottom' || side === 'top') {
      return (
        <text {...base} x={x} y={y} dy="0.34em" textAnchor={side === 'bottom' ? 'end' : 'start'} transform={`rotate(-90 ${x} ${y})`}>
          {labels[index]}
        </text>
      );
    }
    return (
      <text {...base} x={x} y={y} dy="0.34em" textAnchor={side === 'left' ? 'end' : 'start'}>
        {labels[index]}
      </text>
    );
  };
}

// margin around the plot; one pixel on each axis side is taken by the (1px) axis itself
function margins(s: any, axisSides: string[]) {
  const m: any = { top: s.top ? 100 : 6, bottom: s.bottom ? 100 : 6, left: s.left ? 110 : 6, right: s.right ? 120 : 6 };
  axisSides.forEach((k) => (m[k] -= 1));
  return m;
}

const greyStyle = { fill: '#808080', fillOpacity: 0.1, stroke: GREY, strokeWidth: 1.4 };

function ContourPanel({ rect, xp, yp, red, labelX, labelY, sets }: any) {
  const sides = red ? { top: labelX, right: labelY } : { bottom: labelX, left: labelY };
  const xSide = red ? 'top' : 'bottom';
  const ySide = red ? 'right' : 'left';
  const m = margins(sides, [xSide, ySide]);
  const [x, y, w, h] = rect;
  const col = red ? RED : BLUE;
  const colStyle = { fill: col, fillOpacity: 0.14, stroke: col, strokeWidth: 1.5 };
  const styles = [greyStyle, greyStyle, colStyle, colStyle];
  const W = w + m.left + m.right + 1;
  const H = h + m.top + m.bottom + 1;
  return (
    <div style={{ position: 'absolute', left: x - m.left - (ySide === 'left' ? 1 : 0), top: y - m.top - (xSide === 'top' ? 1 : 0) }}>
      <ScatterChart width={W} height={H} margin={m}>
        <CartesianGrid stroke="#c4c4c4" strokeWidth={1.2} />
        <XAxis
          type="number"
          dataKey="x"
          domain={xp.domain}
          ticks={xp.ticks}
          allowDataOverflow
          interval={0}
          orientation={xSide}
          height={1}
          axisLine={false}
          stroke="#000"
          tickSize={4}
          tickMargin={red ? 3 : 2}
          tick={labelX ? tickRenderer(xp.labels, xSide) : false}
        />
        <YAxis
          type="number"
          dataKey="y"
          domain={yp.domain}
          ticks={yp.ticks}
          allowDataOverflow
          interval={0}
          orientation={ySide}
          width={1}
          axisLine={false}
          stroke="#000"
          tickSize={4}
          tickMargin={1}
          tick={labelY ? tickRenderer(yp.labels, ySide) : false}
        />
        {sets.map((pts: number[][], k: number) => (
          <Scatter
            key={k}
            data={pts.map(([px, py]) => ({ x: px, y: py }))}
            shape={EmptyShape}
            line={styles[k]}
            lineJointType={closedSpline as any}
            isAnimationActive={false}
          />
        ))}
      </ScatterChart>
    </div>
  );
}

function DiagPanel({ rect, p, d, red, labeled }: any) {
  const sides = red ? { top: labeled } : { bottom: labeled };
  const xSide = red ? 'top' : 'bottom';
  const m = margins(sides, [xSide]);
  const [x, y, w, h] = rect;
  const col = red ? RED : BLUE;
  const n = d.hist.length;
  const bw = (p.domain[1] - p.domain[0]) / n;
  const rows: any[] = [];
  for (let k = 0; k <= n; k++) rows.push({ x: p.domain[0] + k * bw, h: d.hist[Math.min(k, n - 1)] });
  d.px.forEach((px: number, k: number) => rows.push({ x: px, p: d.py[k] }));
  rows.sort((a, b) => a.x - b.x);
  return (
    <div style={{ position: 'absolute', left: x - m.left, top: y - m.top - (xSide === 'top' ? 1 : 0) }}>
      <ComposedChart width={w + m.left + m.right} height={h + m.top + m.bottom + 1} margin={m} data={rows}>
        <XAxis
          type="number"
          dataKey="x"
          domain={p.domain}
          ticks={p.ticks}
          allowDataOverflow
          interval={0}
          orientation={xSide}
          height={1}
          axisLine={false}
          stroke="#000"
          tickSize={4}
          tickMargin={red ? 3 : 2}
          tickLine={!!labeled}
          tick={labeled ? tickRenderer(p.labels, xSide) : false}
        />
        <YAxis type="number" domain={[-0.048, 1.048]} allowDataOverflow hide />
        <Area
          dataKey="h"
          type="linear"
          stroke={GREY}
          strokeWidth={1.2}
          fill="#808080"
          fillOpacity={0.1}
          connectNulls
          dot={false}
          activeDot={false}
          isAnimationActive={false}
        />
        <Area
          dataKey="p"
          type="monotone"
          stroke={col}
          strokeWidth={1.6}
          fill={col}
          fillOpacity={0.1}
          connectNulls
          dot={false}
          activeDot={false}
          isAnimationActive={false}
        />
      </ComposedChart>
    </div>
  );
}

function Title({ x, y, sym, sub, rotate }: any) {
  return (
    <text x={x} y={y} textAnchor="middle" fontFamily={FONT} fill="#000" transform={rotate ? `rotate(-90 ${x} ${y})` : undefined}>
      <tspan fontSize={23} fontStyle="italic">
        {sym}
      </tspan>
      <tspan fontSize={16} dx={1} dy={-3}>
        *
      </tspan>
      <tspan fontSize={16} dx={-8} dy={10}>
        {sub}
      </tspan>
    </text>
  );
}

export default function App() {
  const frames: number[][] = [];
  for (let i = 0; i < 4; i++)
    for (let j = 0; j <= i; j++) frames.push([BX[j], BY[i], BX[j + 1] - BX[j], BY[i + 1] - BY[i]]);
  for (let i = 0; i < 4; i++)
    for (let j = i; j < 4; j++) frames.push([RX[j], RY[i], RX[j + 1] - RX[j], RY[i + 1] - RY[i]]);

  return (
    <div style={{ position: 'absolute', left: 0, top: 0, width: 1119, height: 934, background: '#fff', overflow: 'hidden' }}>
      {blueDiag.map((d, i) => (
        <DiagPanel key={'bd' + i} rect={[BX[i], BY[i], BX[i + 1] - BX[i], BY[i + 1] - BY[i]]} p={blueParams[i]} d={d} red={false} labeled={i === 3} />
      ))}
      {redDiag.map((d, i) => (
        <DiagPanel key={'rd' + i} rect={[RX[i], RY[i], RX[i + 1] - RX[i], RY[i + 1] - RY[i]]} p={redParams[i]} d={d} red labeled={i === 0} />
      ))}
      {blueContours.map((c) => (
        <ContourPanel
          key={'bc' + c.i + c.j}
          rect={[BX[c.j], BY[c.i], BX[c.j + 1] - BX[c.j], BY[c.i + 1] - BY[c.i]]}
          xp={blueParams[c.j]}
          yp={blueParams[c.i]}
          red={false}
          labelX={c.i === 3}
          labelY={c.j === 0}
          sets={c.sets}
        />
      ))}
      {redContours.map((c) => (
        <ContourPanel
          key={'rc' + c.i + c.j}
          rect={[RX[c.j], RY[c.i], RX[c.j + 1] - RX[c.j], RY[c.i + 1] - RY[c.i]]}
          xp={redParams[c.j]}
          yp={redParams[c.i]}
          red
          labelX={c.i === 0}
          labelY={c.j === 3}
          sets={c.sets}
        />
      ))}
      <svg width={1119} height={934} style={{ position: 'absolute', left: 0, top: 0, pointerEvents: 'none' }}>
        {frames.map((f, k) => (
          <rect key={k} x={f[0]} y={f[1]} width={f[2]} height={f[3]} fill="none" stroke="#111" strokeWidth={1.4} />
        ))}
        {blueTitles.map((t, k) => (
          <Title key={'bb' + k} x={(BX[k] + BX[k + 1]) / 2} y={918} sym={t.sym} sub={t.sub} />
        ))}
        {blueTitles.map((t, k) => (
          <Title key={'bl' + k} x={31} y={(BY[k] + BY[k + 1]) / 2} sym={t.sym} sub={t.sub} rotate />
        ))}
        {redTitles.map((t, k) => (
          <Title key={'rt' + k} x={(RX[k] + RX[k + 1]) / 2} y={38} sym={t.sym} sub={t.sub} />
        ))}
        {redTitles.map((t, k) => (
          <Title key={'rr' + k} x={1102} y={(RY[k] + RY[k + 1]) / 2} sym={t.sym} sub={t.sub} rotate />
        ))}
        <rect x={81.5} y={6.5} width={198} height={70} rx={4} fill="#fff" stroke="#d9d9d9" />
        <rect x={89.5} y={15.5} width={46} height={16} fill="#cfe2f0" stroke={BLUE} strokeWidth={3} />
        <text x={153} y={32} fontFamily={FONT} fontSize={21} fill="#000">
          {legendNames[0]}
        </text>
        <rect x={89.5} y={47.5} width={46} height={16} fill="#f9cbc8" stroke={RED} strokeWidth={3} />
        <text x={153} y={64} fontFamily={FONT} fontSize={21} fill="#000">
          {legendNames[1]}
        </text>
      </svg>
    </div>
  );
}
